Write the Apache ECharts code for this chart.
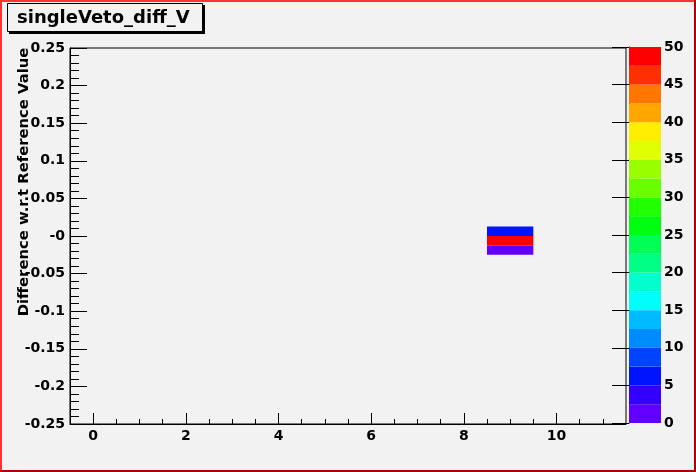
<!DOCTYPE html>
<html>
<head>
<meta charset="utf-8">
<title>singleVeto_diff_V</title>
<script src="https://cdn.jsdelivr.net/npm/echarts@6/dist/echarts.min.js"></script>
<style>
  html, body { margin: 0; padding: 0; background: #f2f2f2; }
  #chart { width: 696px; height: 472px; }
</style>
</head>
<body>
<div id="chart"></div>
<script>
// histogram content (bin centres and counts)
const cellX = [9, 9, 9]
const cellY = [0.00625, -0.00625, -0.01875]
const cellZ = [6, 50, 1]
const binW = 1
const binH = 0.0125

// axis ticks
const xTickValues = [0, 2, 4, 6, 8, 10]
const yTickLabels = ['-0.25', '-0.2', '-0.15', '-0.1', '-0.05', '-0', '0.05', '0.1', '0.15', '0.2', '0.25']
const zMax = 50
const zLevels = 20

// ROOT pretty palette (violet -> red), 20 contour levels
const palette = ['#6200ff', '#3300ff', '#0014ff', '#0044ff', '#008bff', '#00bbff', '#00fffb', '#00ffcc', '#00ff85', '#00ff55',
  '#00ff0e', '#22ff00', '#69ff00', '#99ff00', '#e0ff00', '#ffee00', '#ffa700', '#ff7700', '#ff3000', '#ff0000']

const font = 'DejaVu Sans'
const labelStyle = { color: '#000', fontFamily: font, fontWeight: 'bold', fontSize: 14 }

let xMinor = []
for (let v = 0.5; v < 11.5; v += 0.5) xMinor.push(v)

let cells = cellX.map((x, i) => [x, cellY[i], cellZ[i]])
let levels = []
for (let j = 0; j < zLevels; j++) levels.push([j * zMax / zLevels, (j + 1) * zMax / zLevels, j])

function levelColor (z) {
  let j = Math.floor(z / (zMax / zLevels))
  return palette[Math.max(0, Math.min(zLevels - 1, j))]
}

let chart = echarts.init(document.getElementById('chart'))
let option = {
  backgroundColor: '#f2f2f2',
  animation: false,
  grid: [
    { left: 70, right: 70, top: 48, bottom: 48, show: true, borderColor: '#000', borderWidth: 1, backgroundColor: 'transparent' },
    { left: 629, width: 32, top: 47, bottom: 49 }
  ],
  xAxis: [{
    type: 'value',
    gridIndex: 0,
    min: -0.5,
    max: 11.5,
    axisLine: { show: true, onZero: false, lineStyle: { color: '#000', width: 1 } },
    axisTick: { show: true, inside: true, length: 11, customValues: xTickValues, lineStyle: { color: '#000' } },
    axisLabel: Object.assign({ margin: 5, customValues: xTickValues }, labelStyle),
    splitLine: { show: false }
  }, {
    // minor ticks
    type: 'value',
    gridIndex: 0,
    min: -0.5,
    max: 11.5,
    position: 'bottom',
    axisLine: { show: false, onZero: false },
    axisTick: { show: true, inside: true, length: 5, customValues: xMinor, lineStyle: { color: '#000' } },
    axisLabel: { show: false },
    splitLine: { show: false }
  }, {
    type: 'value',
    gridIndex: 1,
    min: 0,
    max: 1,
    show: false
  }],
  yAxis: [{
    type: 'value',
    gridIndex: 0,
    min: -0.25,
    max: 0.25,
    interval: 0.05,
    axisLine: { show: true, onZero: false, lineStyle: { color: '#000', width: 1 } },
    axisTick: { show: true, inside: true, length: 17, lineStyle: { color: '#000' } },
    minorTick: { show: true, splitNumber: 5, length: 9, lineStyle: { color: '#000' } },
    axisLabel: Object.assign({
      margin: 5,
      formatter: v => yTickLabels[Math.round((v + 0.25) / 0.05)]
    }, labelStyle),
    splitLine: { show: false }
  }, {
    // colour scale
    type: 'value',
    gridIndex: 1,
    position: 'right',
    min: 0,
    max: zMax,
    interval: 5,
    axisLine: { show: true, lineStyle: { color: '#000', width: 1 } },
    axisTick: { show: true, inside: true, length: 17, lineStyle: { color: '#000' } },
    axisLabel: Object.assign({ margin: 3 }, labelStyle),
    splitLine: { show: false }
  }],
  series: [{
    type: 'custom',
    xAxisIndex: 0,
    yAxisIndex: 0,
    data: cells,
    renderItem: (params, api) => {
      let p = api.coord([api.value(0) - binW / 2, api.value(1) + binH / 2])
      let s = api.size([binW, binH])
      return {
        type: 'rect',
        shape: { x: p[0], y: p[1], width: s[0], height: s[1] },
        style: { fill: levelColor(api.value(2)) }
      }
    }
  }, {
    type: 'custom',
    xAxisIndex: 2,
    yAxisIndex: 1,
    data: levels,
    renderItem: (params, api) => {
      let p1 = api.coord([0, api.value(1)])
      let p2 = api.coord([1, api.value(0)])
      return {
        type: 'rect',
        shape: { x: p1[0], y: p1[1], width: p2[0] - p1[0], height: p2[1] - p1[1] },
        style: { fill: palette[api.value(2)] }
      }
    }
  }],
  graphic: [
    // canvas border
    { type: 'rect', shape: { x: 0, y: 0, width: 696, height: 2 }, style: { fill: '#ff3333' } },
    { type: 'rect', shape: { x: 0, y: 0, width: 2, height: 472 }, style: { fill: '#ff3333' } },
    { type: 'rect', shape: { x: 0, y: 470, width: 696, height: 2 }, style: { fill: '#b00000' } },
    { type: 'rect', shape: { x: 694, y: 0, width: 2, height: 472 }, style: { fill: '#b00000' } },
    // title box
    { type: 'rect', shape: { x: 9, y: 5, width: 196, height: 29 }, style: { fill: '#000' } },
    { type: 'rect', shape: { x: 7.5, y: 3.5, width: 195, height: 28 }, style: { fill: '#f2f2f2', stroke: '#000', lineWidth: 1 } },
    {
      type: 'text', x: 17, y: 18,
      style: { text: 'singleVeto_diff_V', fill: '#000', font: 'bold 18px "DejaVu Sans"', textAlign: 'left', textVerticalAlign: 'middle' }
    },
    // y axis title
    {
      type: 'text', x: 24, y: 182, rotation: Math.PI / 2,
      style: { text: 'Difference w.r.t Reference Value', fill: '#000', font: 'bold 14.8px "DejaVu Sans"', textAlign: 'center', textVerticalAlign: 'middle' }
    }
  ]
}
chart.setOption(option)
window.addEventListener('resize', () => {
  chart.resize()
})
</script>
</body>
</html>
